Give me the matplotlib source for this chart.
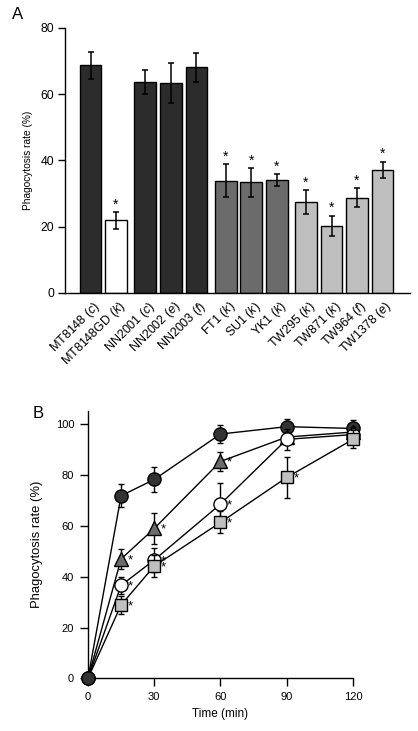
import matplotlib
matplotlib.use('Agg')
import matplotlib.pyplot as plt
import numpy as np

plt.rcParams['font.family'] = ['Liberation Sans', 'DejaVu Sans']
plt.rcParams['mathtext.fontset'] = 'custom'
plt.rcParams['mathtext.rm'] = 'Liberation Sans'
plt.rcParams['mathtext.it'] = 'Liberation Sans:italic'

# Panel A data
strains = ['MT8148', 'MT8148GD', 'NN2001', 'NN2002', 'NN2003', 'FT1', 'SU1', 'YK1',
           'TW295', 'TW871', 'TW964', 'TW1378']
serotypes = ['c', 'k', 'c', 'e', 'f', 'k', 'k', 'k', 'k', 'k', 'f', 'e']
groups = [0, 0, 1, 1, 1, 2, 2, 2, 3, 3, 3, 3]
rate_a = [68.7, 21.9, 63.8, 63.3, 68.1, 33.9, 33.4, 34.1, 27.4, 20.3, 28.8, 37.1]
err_a = [4.1, 2.5, 3.6, 6.0, 4.5, 5.0, 4.3, 1.8, 3.7, 3.0, 2.9, 2.5]
signif_a = [False, True, False, False, False, True, True, True, True, True, True, True]
bar_colors = ['#2c2c2c', '#ffffff', '#2c2c2c', '#2c2c2c', '#2c2c2c', '#6b6b6b', '#6b6b6b',
              '#6b6b6b', '#bebebe', '#bebebe', '#bebebe', '#bebebe']

# Panel B data
time = [0, 15, 30, 60, 90, 120]
filled_circle = [0, 71.9, 78.3, 96.2, 99.1, 98.4]
filled_circle_err = [0, 4.6, 5.0, 3.5, 3.0, 3.3]
triangle = [0, 47.0, 59.0, 85.4, 95.0, 97.0]
triangle_err = [0, 4.0, 6.0, 3.7, 0, 0]
open_circle = [0, 36.6, 46.6, 68.6, 94.1, 96.0]
open_circle_err = [0, 3.4, 4.6, 8.2, 4.0, 3.0]
square = [0, 28.9, 44.2, 61.4, 79.1, 94.1]
square_err = [0, 3.6, 4.2, 4.3, 8.0, 3.5]
triangle_sig = [15, 30, 60]
open_circle_sig = [15, 30, 60]
square_sig = [15, 30, 60, 90]

fig = plt.figure(figsize=(4.18, 7.31), dpi=100)

# ---------- Panel A ----------
ax1 = fig.add_axes([0.1555, 0.5992, 0.8255, 0.3625])
x = np.arange(len(strains)) + 0.15 * np.array(groups)
ax1.bar(x, rate_a, width=0.85, color=bar_colors, edgecolor='black', linewidth=1.0, zorder=2)
ax1.errorbar(x, rate_a, yerr=err_a, fmt='none', ecolor='black', elinewidth=1.1,
             capsize=2.2, capthick=1.1, zorder=3)
for xi, v, e, s in zip(x, rate_a, err_a, signif_a):
    if s:
        ax1.text(xi, v + e + 0.2, '*', ha='center', va='bottom', fontsize=10)
ax1.set_xlim(-1.0, 12.53)
ax1.set_ylim(0, 80)
ax1.set_yticks([0, 20, 40, 60, 80])
ax1.set_xticks(x + 0.08)
ax1.set_xticklabels([f'{s} ($\\it{{{t}}}$)' for s, t in zip(strains, serotypes)],
                    rotation=45, ha='right', rotation_mode='anchor', fontsize=9)
ax1.tick_params(axis='x', length=0, pad=4)
ax1.tick_params(axis='y', length=5, width=1, labelsize=8.8, pad=3)
ax1.spines['top'].set_visible(False)
ax1.spines['right'].set_visible(False)
ax1.spines['left'].set_linewidth(1)
ax1.spines['bottom'].set_linewidth(1)
ax1.set_ylabel('Phagocytosis rate (%)', fontsize=7.3, labelpad=5)
fig.text(0.028, 0.99, 'A', fontsize=12, ha='left', va='top')

# ---------- Panel B ----------
ax2 = fig.add_axes([0.2105, 0.0721, 0.634, 0.3661])
series = [
    (filled_circle, filled_circle_err, 'o', '#333333', []),
    (triangle, triangle_err, '^', '#6b6b6b', triangle_sig),
    (open_circle, open_circle_err, 'o', '#ffffff', open_circle_sig),
    (square, square_err, 's', '#c0c0c0', square_sig),
]
for k, (vals, errs, mk, fc, sig) in enumerate(series):
    z = 3 + k
    ax2.errorbar(time, vals, yerr=errs, fmt='none', ecolor='black', elinewidth=1.0,
                 capsize=2.0, capthick=1.0, zorder=z, clip_on=False)
    # the shared 0 min point is shown only as the filled circle
    every = None if k == 0 else list(range(1, len(time)))
    ax2.plot(time, vals, '-', color='black', lw=1.0, marker=mk, markevery=every,
             markersize=9.5 if mk != 's' else 9,
             markerfacecolor=fc, markeredgecolor='black', markeredgewidth=1.0, zorder=z, clip_on=False)
    for t in sig:
        v = vals[time.index(t)]
        ax2.text(t + 3.0, v - 0.5, '*', ha='left', va='center', fontsize=9.5, zorder=10)
ax2.plot(time[:1], filled_circle[:1], 'o', markersize=9.5, markerfacecolor='#333333',
         markeredgecolor='black', markeredgewidth=1.0, zorder=9, clip_on=False)
ax2.set_xlim(0, 120)
ax2.set_ylim(0, 105.4)
ax2.set_xticks([0, 30, 60, 90, 120])
ax2.set_yticks([0, 20, 40, 60, 80, 100])
ax2.tick_params(axis='both', length=6, width=1, labelsize=8, pad=4)
ax2.spines['top'].set_visible(False)
ax2.spines['right'].set_visible(False)
ax2.spines['left'].set_linewidth(1)
ax2.spines['bottom'].set_linewidth(1)
ax2.set_xlabel('Time (min)', fontsize=8.5, labelpad=4)
ax2.set_ylabel('Phagocytosis rate (%)', fontsize=9.4, labelpad=9)
fig.text(0.078, 0.445, 'B', fontsize=12, ha='left', va='top')

fig.savefig('out.png', dpi=100)
